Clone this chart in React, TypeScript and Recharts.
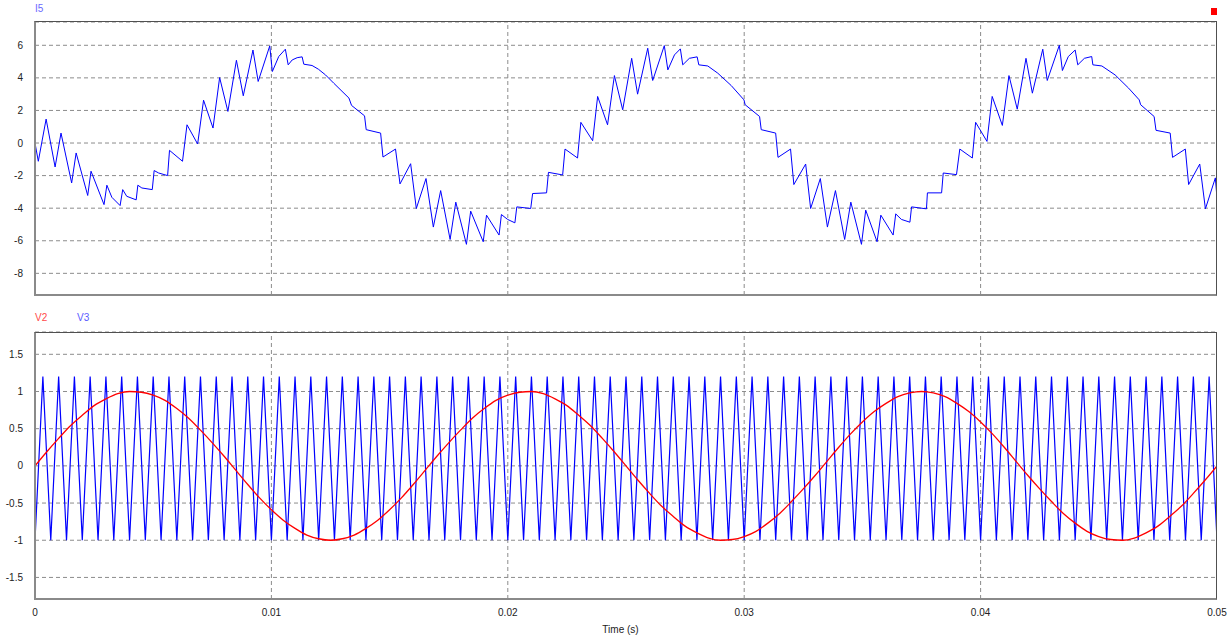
import { LineChart, Line, XAxis, YAxis, CartesianGrid, ReferenceLine } from 'recharts';

const xTicksMs = [0, 10, 20, 30, 40, 50];
const xTickLabels = ['0', '0.01', '0.02', '0.03', '0.04', '0.05'];
const xGridMs = [10, 20, 30, 40];
const i5Ticks = [-8, -6, -4, -2, 0, 2, 4, 6];
const vTicks = [-1.5, -1, -0.5, 0, 0.5, 1, 1.5];

// I5 current, vertices (time in ms)
const i5TimeMs = [
  0, 0.14, 0.47, 0.85, 1.1, 1.55, 1.74, 2.23, 2.37, 2.92,
  3.04, 3.25, 3.6, 3.71, 3.88, 4.28, 4.35, 4.52, 4.96, 5.04,
  5.23, 5.61, 5.69, 6.24, 6.43, 6.88, 7.13, 7.53, 7.81, 8.16,
  8.52, 8.81, 9.22, 9.44, 9.93, 10.04, 10.31, 10.59, 10.71, 10.88,
  11.09, 11.3, 11.37, 11.72, 11.99, 12.29, 12.64, 13.28, 13.39, 13.94,
  14.01, 14.62, 14.72, 15.25, 15.44, 15.89, 16.13, 16.54, 16.85, 17.16,
  17.56, 17.8, 18.25, 18.43, 18.96, 19.1, 19.63, 19.73, 19.99, 20.3,
  20.38, 20.97, 21.05, 21.64, 21.72, 22.32, 22.42, 22.95, 23.09, 23.59,
  23.8, 24.22, 24.51, 24.86, 25.24, 25.49, 25.92, 26.13, 26.62, 26.77,
  27.05, 27.3, 27.4, 27.68, 28.01, 28.08, 28.46, 28.88, 29.45, 29.99,
  30.04, 30.65, 30.72, 31.33, 31.43, 31.96, 32.1, 32.6, 32.81, 33.22,
  33.52, 33.86, 34.25, 34.51, 34.96, 35.14, 35.62, 35.78, 36.3, 36.41,
  36.65, 37.01, 37.08, 37.71, 37.75, 38.35, 38.42, 38.98, 39.12, 39.65,
  39.79, 40.27, 40.49, 40.92, 41.2, 41.55, 41.92, 42.19, 42.63, 42.82,
  43.33, 43.46, 43.71, 44.0, 44.11, 44.39, 44.7, 44.75, 45.13, 45.69,
  46.26, 46.71, 46.77, 47.34, 47.42, 48.02, 48.12, 48.66, 48.8, 49.27,
  49.51, 49.93, 50,
];
const i5Values = [
  0, -1.12, 1.47, -1.47, 0.61, -2.45, -0.61, -3.22, -1.73, -3.78,
  -2.59, -3.33, -3.84, -2.86, -3.27, -3.49, -2.59, -2.76, -2.86, -1.69,
  -1.84, -2.0, -0.45, -1.12, 1.12, -0.06, 2.63, 0.92, 4.02, 1.94,
  5.08, 2.9, 5.71, 3.78, 5.96, 4.39, 5.31, 5.76, 4.8, 5.1,
  5.24, 5.29, 4.84, 4.76, 4.53, 4.18, 3.67, 2.76, 2.31, 1.67,
  0.82, 0.61, -0.86, -0.37, -2.51, -1.27, -4.02, -2.18, -5.16, -2.92,
  -5.92, -3.63, -6.22, -4.18, -6.06, -4.43, -5.65, -4.39, -4.69, -4.9,
  -3.92, -4.02, -3.1, -3.06, -1.8, -1.96, -0.37, -0.92, 1.27, 0.14,
  2.86, 1.12, 4.14, 2.04, 5.2, 3.0, 5.82, 3.84, 5.98, 4.49,
  5.41, 5.78, 4.8, 5.2, 5.29, 4.8, 4.73, 4.29, 3.53, 2.65,
  2.35, 1.63, 0.82, 0.61, -0.88, -0.37, -2.55, -1.29, -4.02, -2.18,
  -5.16, -2.92, -5.92, -3.63, -6.22, -4.12, -6.06, -4.43, -5.65, -4.35,
  -4.69, -4.86, -3.92, -4.04, -3.06, -3.06, -1.84, -1.94, -0.37, -0.92,
  1.27, 0.1, 2.86, 1.08, 4.14, 2.08, 5.2, 3.06, 5.76, 3.84,
  6.0, 4.45, 5.31, 5.71, 4.8, 5.2, 5.31, 4.8, 4.73, 4.18,
  3.37, 2.65, 2.35, 1.63, 0.78, 0.61, -0.88, -0.37, -2.55, -1.29,
  -4.04, -2.14, -3.4,
];

// V2 reference sine, sampled every 0.5 ms
const v2TimeMs = [
  0, 0.5, 1, 1.5, 2, 2.5, 3, 3.5, 4, 4.5, 5, 5.5, 6, 6.5, 7, 7.5, 8, 8.5, 9, 9.5,
  10, 10.5, 11, 11.5, 12, 12.5, 13, 13.5, 14, 14.5, 15, 15.5, 16, 16.5, 17, 17.5, 18, 18.5, 19, 19.5,
  20, 20.5, 21, 21.5, 22, 22.5, 23, 23.5, 24, 24.5, 25, 25.5, 26, 26.5, 27, 27.5, 28, 28.5, 29, 29.5,
  30, 30.5, 31, 31.5, 32, 32.5, 33, 33.5, 34, 34.5, 35, 35.5, 36, 36.5, 37, 37.5, 38, 38.5, 39, 39.5,
  40, 40.5, 41, 41.5, 42, 42.5, 43, 43.5, 44, 44.5, 45, 45.5, 46, 46.5, 47, 47.5, 48, 48.5, 49, 49.5,
  50,
];
const v2Values = [
  0, 0.19, 0.37, 0.54, 0.68, 0.81, 0.9, 0.97, 1.0, 0.99, 0.95, 0.88, 0.77, 0.64, 0.48, 0.31, 0.13, -0.06, -0.25, -0.43,
  -0.59, -0.73, -0.84, -0.93, -0.98, -1.0, -0.98, -0.93, -0.84, -0.73, -0.59, -0.43, -0.25, -0.06, 0.13, 0.31, 0.48, 0.64, 0.77, 0.88,
  0.95, 0.99, 1.0, 0.97, 0.9, 0.81, 0.68, 0.54, 0.37, 0.19, 0, -0.19, -0.37, -0.54, -0.68, -0.81, -0.9, -0.97, -1.0, -0.99,
  -0.95, -0.88, -0.77, -0.64, -0.48, -0.31, -0.13, 0.06, 0.25, 0.43, 0.59, 0.73, 0.84, 0.93, 0.98, 1.0, 0.98, 0.93, 0.84, 0.73,
  0.59, 0.43, 0.25, 0.06, -0.13, -0.31, -0.48, -0.64, -0.77, -0.88, -0.95, -0.99, -1.0, -0.97, -0.9, -0.81, -0.68, -0.54, -0.37, -0.19,
  0,
];

// V3 triangle carrier, turning points
const v3TimeMs = [
  0, 0.333, 0.667, 1, 1.333, 1.667, 2, 2.333, 2.667, 3, 3.333, 3.667, 4, 4.333, 4.667,
  5, 5.333, 5.667, 6, 6.333, 6.667, 7, 7.333, 7.667, 8, 8.333, 8.667, 9, 9.333, 9.667,
  10, 10.333, 10.667, 11, 11.333, 11.667, 12, 12.333, 12.667, 13, 13.333, 13.667, 14, 14.333, 14.667,
  15, 15.333, 15.667, 16, 16.333, 16.667, 17, 17.333, 17.667, 18, 18.333, 18.667, 19, 19.333, 19.667,
  20, 20.333, 20.667, 21, 21.333, 21.667, 22, 22.333, 22.667, 23, 23.333, 23.667, 24, 24.333, 24.667,
  25, 25.333, 25.667, 26, 26.333, 26.667, 27, 27.333, 27.667, 28, 28.333, 28.667, 29, 29.333, 29.667,
  30, 30.333, 30.667, 31, 31.333, 31.667, 32, 32.333, 32.667, 33, 33.333, 33.667, 34, 34.333, 34.667,
  35, 35.333, 35.667, 36, 36.333, 36.667, 37, 37.333, 37.667, 38, 38.333, 38.667, 39, 39.333, 39.667,
  40, 40.333, 40.667, 41, 41.333, 41.667, 42, 42.333, 42.667, 43, 43.333, 43.667, 44, 44.333, 44.667,
  45, 45.333, 45.667, 46, 46.333, 46.667, 47, 47.333, 47.667, 48, 48.333, 48.667, 49, 49.333, 49.667,
  50,
];
const v3Values = [
  -1, 1.2, -1, 1.2, -1, 1.2, -1, 1.2, -1, 1.2, -1, 1.2, -1, 1.2, -1,
  1.2, -1, 1.2, -1, 1.2, -1, 1.2, -1, 1.2, -1, 1.2, -1, 1.2, -1, 1.2,
  -1, 1.2, -1, 1.2, -1, 1.2, -1, 1.2, -1, 1.2, -1, 1.2, -1, 1.2, -1,
  1.2, -1, 1.2, -1, 1.2, -1, 1.2, -1, 1.2, -1, 1.2, -1, 1.2, -1, 1.2,
  -1, 1.2, -1, 1.2, -1, 1.2, -1, 1.2, -1, 1.2, -1, 1.2, -1, 1.2, -1,
  1.2, -1, 1.2, -1, 1.2, -1, 1.2, -1, 1.2, -1, 1.2, -1, 1.2, -1, 1.2,
  -1, 1.2, -1, 1.2, -1, 1.2, -1, 1.2, -1, 1.2, -1, 1.2, -1, 1.2, -1,
  1.2, -1, 1.2, -1, 1.2, -1, 1.2, -1, 1.2, -1, 1.2, -1, 1.2, -1, 1.2,
  -1, 1.2, -1, 1.2, -1, 1.2, -1, 1.2, -1, 1.2, -1, 1.2, -1, 1.2, -1,
  1.2, -1, 1.2, -1, 1.2, -1, 1.2, -1, 1.2, -1, 1.2, -1, 1.2, -1, 1.2,
  -1,
];

const i5Data = i5TimeMs.map((t, i) => ({ t, v: i5Values[i] }));
const v2Data = v2TimeMs.map((t, i) => ({ t, v: v2Values[i] }));
const v3Data = v3TimeMs.map((t, i) => ({ t, v: v3Values[i] }));

const FONT = '"Liberation Sans", Arial, sans-serif';
const tickStyle = { fontSize: 10, fill: '#222', fontFamily: FONT };
const gridColor = '#8c8c8c';

function Frame({ top, height }: { top: number; height: number }) {
  return (
    <div
      style={{
        position: 'absolute',
        left: 34,
        top,
        width: 1183,
        height,
        boxSizing: 'border-box',
        borderTop: '1px solid #505050',
        borderRight: '1px solid #505050',
        borderLeft: '2px solid #8a8a8a',
        borderBottom: '2px solid #8a8a8a',
        pointerEvents: 'none',
      }}
    />
  );
}

const label = (text: string, left: number, top: number, color: string) => (
  <div style={{ position: 'absolute', left, top, fontSize: 10, fontFamily: FONT, color, lineHeight: '10px' }}>
    {text}
  </div>
);

export default function App() {
  return (
    <div style={{ position: 'absolute', left: 0, top: 0, width: 1229, height: 636, background: '#fff' }}>
      {/* top panel: I5 */}
      <div style={{ position: 'absolute', left: 0, top: 0 }}>
        <LineChart width={1229} height={300} margin={{ top: 22, right: 12, left: 0, bottom: 5 }}>
          <CartesianGrid vertical={false} stroke={gridColor} strokeDasharray="4 3" />
          <XAxis type="number" dataKey="t" domain={[0, 50]} ticks={xTicksMs} hide allowDataOverflow />
          <YAxis
            type="number"
            domain={[-9.33, 7.43]}
            ticks={i5Ticks}
            width={35}
            axisLine={false}
            tickLine={false}
            tickSize={10}
            tickMargin={2}
            tick={tickStyle}
            allowDataOverflow
          />
          {xGridMs.map((x) => (
            <ReferenceLine key={x} x={x} stroke={gridColor} strokeDasharray="4 3" />
          ))}
          <Line data={i5Data} dataKey="v" type="linear" stroke="#0000ff" strokeWidth={1} dot={false} isAnimationActive={false} />
        </LineChart>
      </div>
      <Frame top={21} height={275} />
      {label('I5', 35, 4, '#6a6aff')}
      <div style={{ position: 'absolute', left: 1211, top: 8, width: 6, height: 7, background: '#ff0000' }} />

      {/* bottom panel: V2, V3 */}
      <div style={{ position: 'absolute', left: 0, top: 300 }}>
        <LineChart width={1229} height={336} margin={{ top: 32, right: 12, left: 0, bottom: 17 }}>
          <CartesianGrid vertical={false} stroke={gridColor} strokeDasharray="4 3" />
          <XAxis
            type="number"
            dataKey="t"
            domain={[0, 50]}
            ticks={xTicksMs}
            tickFormatter={(v: number) => xTickLabels[xTicksMs.indexOf(v)]}
            height={20}
            axisLine={false}
            tickLine={false}
            tickSize={8}
            tickMargin={2}
            tick={tickStyle}
            allowDataOverflow
          />
          <YAxis
            type="number"
            domain={[-1.79, 1.8]}
            ticks={vTicks}
            width={35}
            axisLine={false}
            tickLine={false}
            tickSize={10}
            tickMargin={2}
            tick={tickStyle}
            allowDataOverflow
          />
          {xGridMs.map((x) => (
            <ReferenceLine key={x} x={x} stroke={gridColor} strokeDasharray="4 3" />
          ))}
          <Line data={v3Data} dataKey="v" type="linear" stroke="#0000ff" strokeWidth={1.2} dot={false} isAnimationActive={false} />
          <Line data={v2Data} dataKey="v" type="monotone" stroke="#ff0000" strokeWidth={1.3} dot={false} isAnimationActive={false} />
        </LineChart>
      </div>
      <Frame top={332} height={268} />
      {label('V2', 35, 313, '#ff4a4a')}
      {label('V3', 77, 313, '#5a5aff')}
      <div
        style={{
          position: 'absolute',
          left: 0,
          width: 1229,
          top: 624,
          textAlign: 'center',
          fontSize: 10,
          fontFamily: FONT,
          color: '#222',
          paddingLeft: 12,
          boxSizing: 'border-box',
        }}
      >
        Time (s)
      </div>
    </div>
  );
}
